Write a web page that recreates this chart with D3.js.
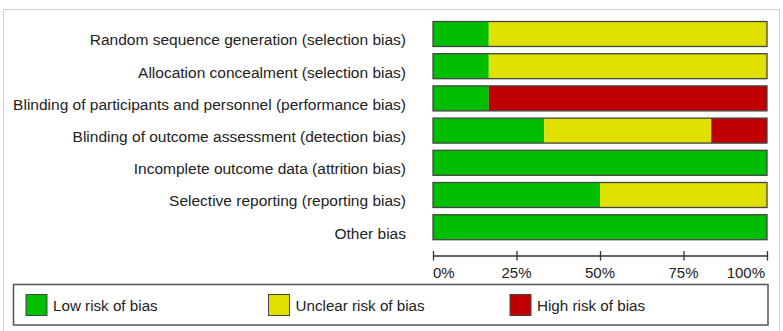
<!DOCTYPE html>
<html>
<head>
<meta charset="utf-8">
<script src="https://cdn.jsdelivr.net/npm/d3@7"></script>
<style>
  body { margin: 0; background: #fff; }
  svg { display: block; font-family: "Liberation Sans", Arial, sans-serif; }
</style>
</head>
<body>
<div id="chart"></div>
<script>
// risk of bias domains
const categories = [
  'Random sequence generation (selection bias)',
  'Allocation concealment (selection bias)',
  'Blinding of participants and personnel (performance bias)',
  'Blinding of outcome assessment (detection bias)',
  'Incomplete outcome data (attrition bias)',
  'Selective reporting (reporting bias)',
  'Other bias'
];
// percent of studies
const lowRisk = [16.7, 16.7, 16.7, 33.3, 100, 50, 100];
const unclearRisk = [83.3, 83.3, 0, 50, 0, 50, 0];
const highRisk = [0, 0, 83.3, 16.7, 0, 0, 0];

const seriesNames = ['Low risk of bias', 'Unclear risk of bias', 'High risk of bias'];
const seriesColors = ['#00bf00', '#e0e000', '#c00000'];
const tickValues = [0, 25, 50, 75, 100];

const width = 783, height = 331;

const svg = d3.select('#chart')
  .append('svg')
  .attr('width', width)
  .attr('height', height);

// light outer frame
svg.append('rect')
  .attr('x', 3.5).attr('y', 9.5)
  .attr('width', 776).attr('height', 330)
  .attr('fill', 'none')
  .attr('stroke', '#d0d0d0');

const x = d3.scaleLinear().domain([0, 100]).range([433, 767]);
const y = d3.scaleBand()
  .domain(categories)
  .range([17.9, 243.3])
  .paddingInner(0.224)
  .paddingOuter(0.112);

// stack the three series
const rows = categories.map((c, i) => ({
  cat: c, low: lowRisk[i], unclear: unclearRisk[i], high: highRisk[i]
}));
const stack = d3.stack().keys(['low', 'unclear', 'high']);
const stacked = stack(rows);

const g = svg.append('g');
stacked.forEach((layer, k) => {
  g.selectAll('.seg' + k)
    .data(layer.filter(d => d[1] - d[0] > 0))
    .join('rect')
    .attr('x', d => x(d[0]))
    .attr('y', d => y(d.data.cat))
    .attr('width', d => x(d[1]) - x(d[0]))
    .attr('height', y.bandwidth())
    .attr('fill', seriesColors[k]);
});

// outline round each bar
g.selectAll('.outline')
  .data(categories)
  .join('rect')
  .attr('x', x(0))
  .attr('y', d => y(d))
  .attr('width', x(100) - x(0))
  .attr('height', y.bandwidth())
  .attr('fill', 'none')
  .attr('stroke', '#444')
  .attr('stroke-width', 1.3);

// row labels
svg.append('g')
  .selectAll('text')
  .data(categories)
  .join('text')
  .attr('x', 406)
  .attr('y', d => y(d) + y.bandwidth() - 1)
  .attr('text-anchor', 'end')
  .attr('font-size', 15.5)
  .attr('fill', '#222')
  .text(d => d);

// percent axis
const axis = svg.append('g')
  .attr('transform', 'translate(0,255.5)')
  .call(d3.axisBottom(x).tickValues(tickValues).tickSize(0).tickFormat(''));
axis.select('.domain').attr('stroke', '#333').attr('stroke-width', 1.3);
axis.selectAll('.tick line')
  .attr('y1', -4.5).attr('y2', 5)
  .attr('stroke', '#333').attr('stroke-width', 1.3);

svg.append('g')
  .selectAll('text')
  .data(tickValues)
  .join('text')
  .attr('x', d => d === 100 ? x(d) - 2 : x(d))
  .attr('y', 277.5)
  .attr('text-anchor', d => d === 0 ? 'start' : d === 100 ? 'end' : 'middle')
  .attr('font-size', 15)
  .attr('fill', '#222')
  .text(d => d + '%');

// legend
svg.append('rect')
  .attr('x', 13.5).attr('y', 284.5)
  .attr('width', 754.5).attr('height', 40.5)
  .attr('fill', 'none')
  .attr('stroke', '#555')
  .attr('stroke-width', 1.5);

const legendX = [26, 268.5, 510];
const leg = svg.append('g')
  .selectAll('g')
  .data(seriesNames)
  .join('g')
  .attr('transform', (d, i) => `translate(${legendX[i]},294.5)`);
leg.append('rect')
  .attr('width', 21).attr('height', 21)
  .attr('fill', (d, i) => seriesColors[i])
  .attr('stroke', '#444')
  .attr('stroke-width', 1);
leg.append('text')
  .attr('x', 27)
  .attr('y', 16.5)
  .attr('font-size', 15.2)
  .attr('fill', '#222')
  .text(d => d);
</script>
</body>
</html>
